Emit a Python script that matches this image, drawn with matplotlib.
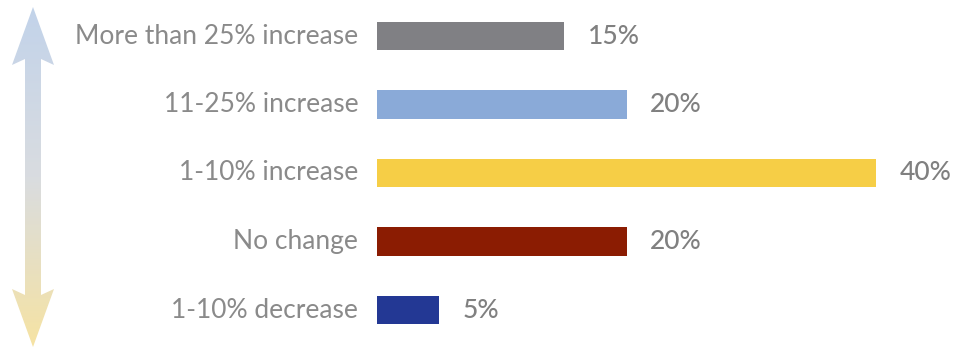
import numpy as np
import matplotlib
matplotlib.use("Agg")
from matplotlib import pyplot as plt
from matplotlib.patches import Polygon
from matplotlib.colors import LinearSegmentedColormap

categories = ["More than 25% increase", "11-25% increase", "1-10% increase",
              "No change", "1-10% decrease"]
values = [15, 20, 40, 20, 5]
bar_colors = ["#808084", "#8aaad8", "#f6ce46", "#8b1c02", "#233894"]
value_labels = ["15%", "20%", "40%", "20%", "5%"]

W, H = 956, 347
fig = plt.figure(figsize=(W / 100, H / 100), dpi=100)

# bar axes, aligned in pixels
ax = fig.add_axes([377 / W, 0, (876 - 377) / W, 1])
y = np.arange(len(categories))
ax.barh(y, values, height=0.41, color=bar_colors)
ax.set_xlim(0, 40)
ax.set_ylim((H - 36) / 68.5, -36 / 68.5)
ax.axis("off")

for i, (cat, v, lab) in enumerate(zip(categories, values, value_labels)):
    ax.text(-1.5, i, cat, ha="right", va="center", fontsize=19,
            family="Lato", fontweight="normal", color="#8a8a8a")
    ax.text(v + 1.9, i, lab, ha="left", va="center", fontsize=19,
            family="Lato", fontweight="medium", color="#808080")

# gradient double arrow on the left
ax2 = fig.add_axes([0, 0, 1, 1])
ax2.set_xlim(0, W)
ax2.set_ylim(H, 0)
ax2.axis("off")
cx, top, bot = 33, 7, 347
sh, hw, hl = 8, 21, 58
pts = [(cx, top), (cx + hw, top + hl), (cx + sh, top + hl - 6), (cx + sh, bot - hl + 6),
       (cx + hw, bot - hl), (cx, bot), (cx - hw, bot - hl), (cx - sh, bot - hl + 6),
       (cx - sh, top + hl - 6), (cx - hw, top + hl)]
poly = Polygon(pts, closed=True, facecolor="none", edgecolor="none")
ax2.add_patch(poly)
cmap = LinearSegmentedColormap.from_list("arr", ["#c2d3ea", "#d9dce0", "#f6e3a3"])
grad = np.linspace(0, 1, 256).reshape(-1, 1)
im = ax2.imshow(grad, cmap=cmap, extent=[cx - hw, cx + hw, bot, top],
                aspect="auto", origin="upper")
im.set_clip_path(poly)
ax2.set_xlim(0, W)
ax2.set_ylim(H, 0)

fig.savefig("out.png", dpi=100)
